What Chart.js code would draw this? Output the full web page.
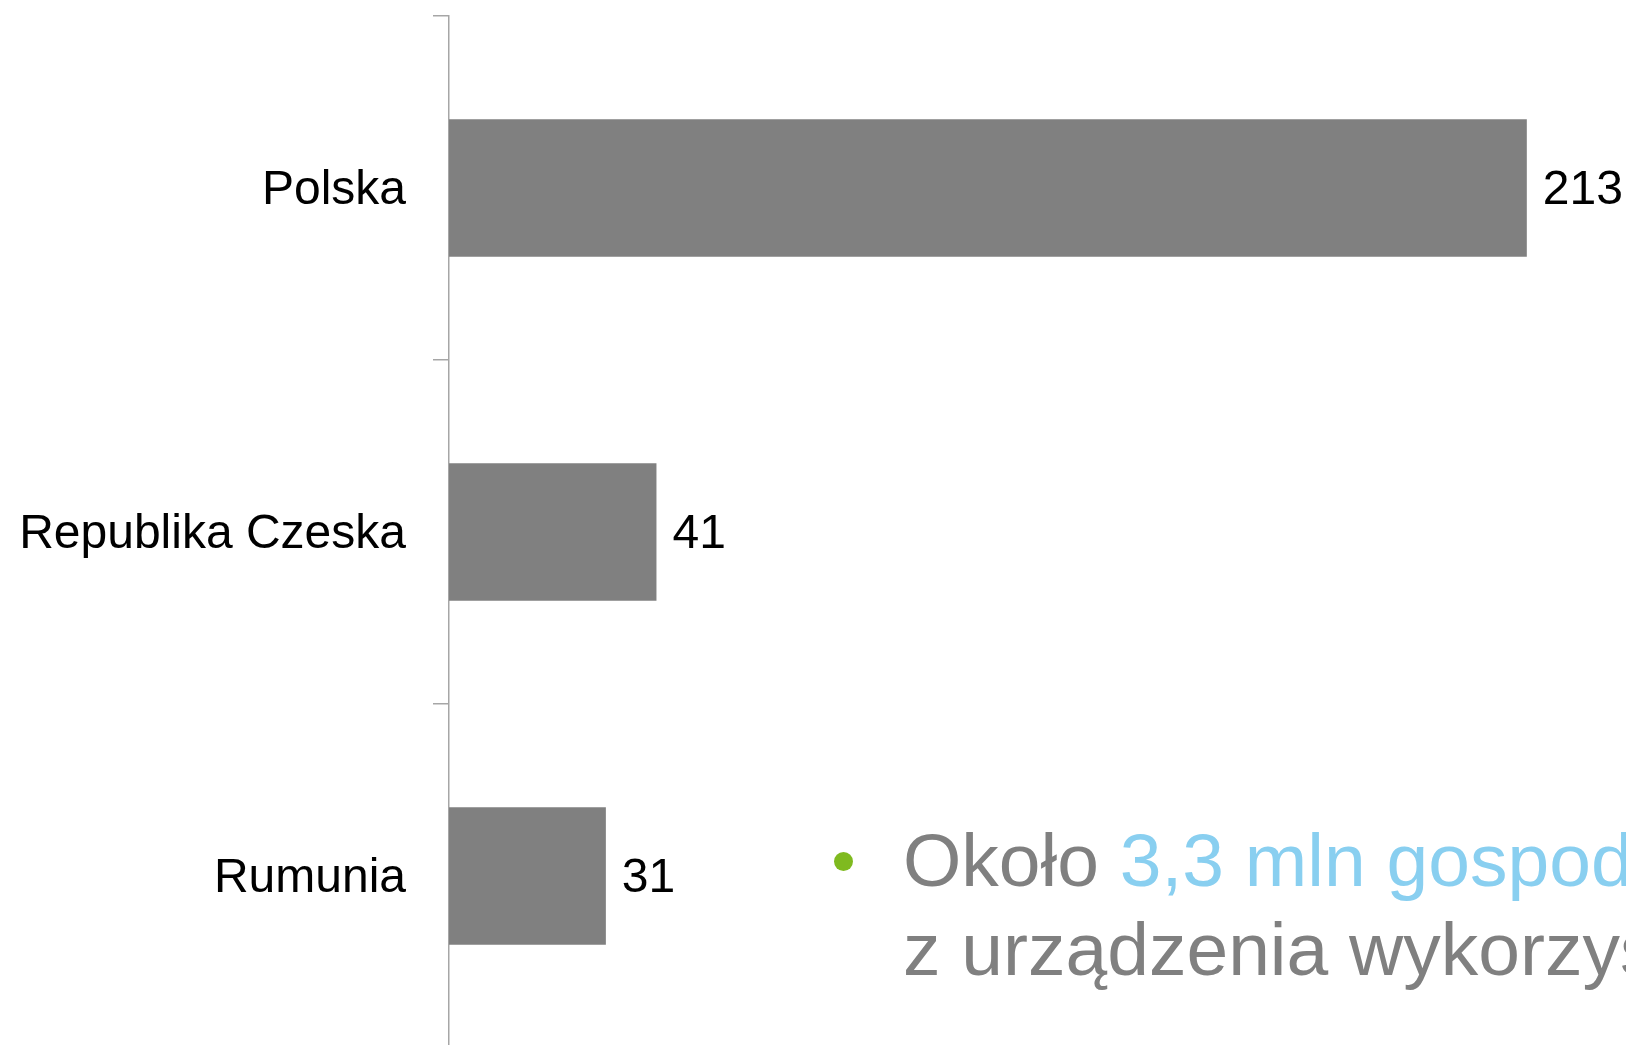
<!DOCTYPE html>
<html>
<head>
<meta charset="utf-8">
<script src="https://cdn.jsdelivr.net/npm/chart.js@4/dist/chart.umd.min.js"></script>
<style>
  html, body { margin: 0; padding: 0; background: #ffffff; overflow: hidden; width: 1626px; height: 1045px; }
  #wrap { position: absolute; left: 0; top: 0; width: 1626px; height: 1050px; }
  #note { position: absolute; left: 903px; top: 816px; white-space: nowrap;
          font-family: 'Liberation Sans', Arial, sans-serif; font-size: 75px; line-height: 89px;
          color: #808080; }
  #note .hl { color: #89cff0; }
  #bullet { position: absolute; left: 834px; top: 852px; width: 19px; height: 19px; border-radius: 50%; background: #7fba1f; }
</style>
</head>
<body>
<div id="wrap"><canvas id="c" width="1626" height="1050"></canvas></div>
<div id="bullet"></div>
<div id="note">Około <span class="hl">3,3 mln gospodarstw domowych</span> korzysta<br>z urządzenia wykorzystującego</div>
<script>
const categories = ['Polska', 'Republika Czeska', 'Rumunia'];
const values = [213, 41, 31];
const xMin = 0;
const xMax = 232.6;

const valueLabels = {
  id: 'valueLabels',
  afterDatasetsDraw(chart) {
    const ctx = chart.ctx;
    const meta = chart.getDatasetMeta(0);
    ctx.save();
    ctx.font = '48px "Liberation Sans", Arial, sans-serif';
    ctx.fillStyle = '#000000';
    ctx.textAlign = 'left';
    ctx.textBaseline = 'middle';
    meta.data.forEach((bar, i) => {
      ctx.fillText(String(values[i]), bar.x + 16, bar.y + 3);
    });
    ctx.restore();
  }
};

new Chart(document.getElementById('c'), {
  type: 'bar',
  data: {
    labels: categories,
    datasets: [{
      data: values,
      backgroundColor: '#808080',
      borderWidth: 0,
      barPercentage: 0.4,
      categoryPercentage: 1.0
    }]
  },
  options: {
    indexAxis: 'y',
    responsive: false,
    animation: false,
    devicePixelRatio: 1,
    layout: { autoPadding: false, padding: { top: 16, bottom: 2, left: 0, right: 0 } },
    plugins: { legend: { display: false }, tooltip: { enabled: false } },
    scales: {
      x: { display: false, min: xMin, max: xMax },
      y: {
        afterFit(scale) { scale.width = 449; scale.paddingTop = 0; scale.paddingBottom = 0; },
        border: { display: true, color: '#a6a6a6', width: 1.5 },
        grid: { offset: true, drawOnChartArea: false, drawTicks: true, tickLength: 16, color: '#a6a6a6', lineWidth: 1.5 },
        ticks: {
          padding: 27,
          labelOffset: 3,
          color: '#000000',
          font: { family: '"Liberation Sans", Arial, sans-serif', size: 48 }
        }
      }
    }
  },
  plugins: [valueLabels]
});
</script>
</body>
</html>
